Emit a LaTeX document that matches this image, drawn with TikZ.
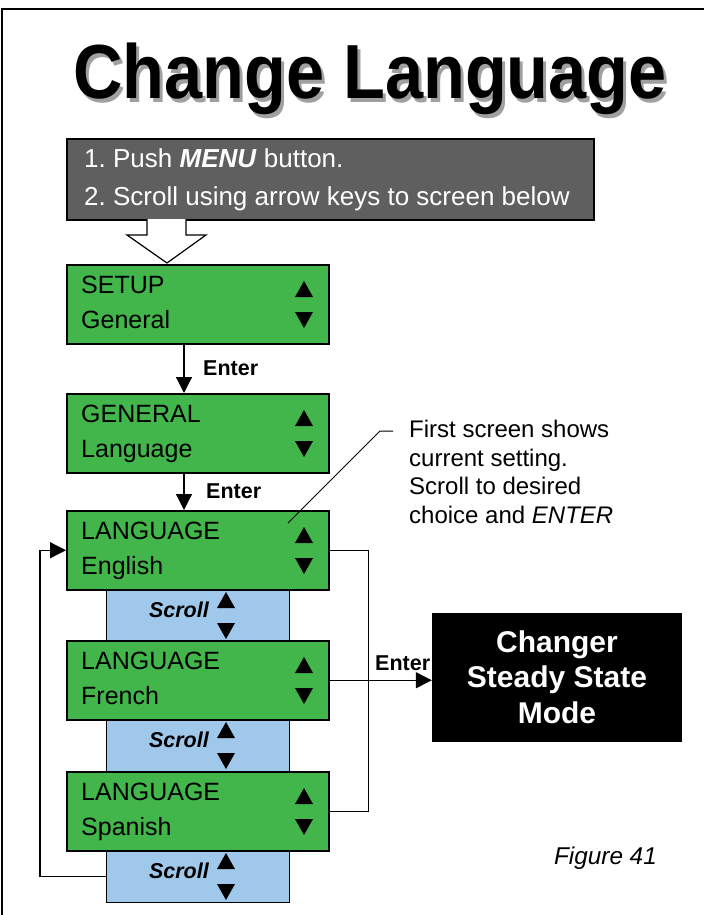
\documentclass[tikz,border=0pt]{standalone}
\usepackage{fontspec}
\setmainfont{Liberation Sans}
\usetikzlibrary{arrows.meta}
\frenchspacing
\definecolor{boxgreen}{HTML}{42B64A}
\definecolor{scrollblue}{HTML}{A0C8EB}
\definecolor{menugray}{HTML}{5F5F5F}
\definecolor{shadowgray}{HTML}{A0A0A0}
\tikzset{
  screen/.style={draw, fill=boxgreen, line width=1.5pt, minimum width=262pt, minimum height=79pt, anchor=north west, inner sep=0pt},
  scrollbar/.style={draw, fill=scrollblue, line width=1pt, minimum width=183pt, anchor=north west, inner sep=0pt},
  scrtext/.style={anchor=base west, inner sep=0pt, font=\fontsize{25}{28}\selectfont},
  entertext/.style={anchor=base west, inner sep=0pt, font=\fontsize{21.5}{24}\selectfont\bfseries},
  scrolltext/.style={anchor=base east, inner sep=0pt, font=\fontsize{21.5}{24}\selectfont\bfseries\itshape},
  calltext/.style={anchor=base west, inner sep=0pt, font=\fontsize{24}{28}\selectfont},
  bigtext/.style={anchor=base, inner sep=0pt, text=white, font=\fontsize{30}{34}\selectfont\bfseries},
  menutext/.style={anchor=base west, inner sep=0pt, text=white, font=\fontsize{26}{30}\selectfont},
  arr/.style={line width=1.2pt, -{Triangle[length=16pt,width=16pt]}},
  conn/.style={line width=1.2pt},
  uptri/.pic={\fill (-9,8) -- (9,8) -- (0,-8) -- cycle;},
  dntri/.pic={\fill (-9,-8) -- (9,-8) -- (0,8) -- cycle;}
}
\newcommand\shadowed[1]{\makebox[0pt][l]{\hspace{3pt}\raisebox{-3pt}{\textcolor{shadowgray}{#1}}}#1}
\begin{document}
\begin{tikzpicture}[x=1pt,y=-1pt]
\useasboundingbox (0,0) rectangle (704,915);
\fill[white] (0,0) rectangle (704,915);
\draw[line width=1.5pt] (2,915) -- (2,9) -- (704,9);

% title
\node[anchor=base, inner sep=0pt, font=\fontsize{68.5}{72}\selectfont\bfseries] (title) at (370,99) {\scalebox{1}[1.12]{\shadowed{Change Language}}};

% menu instruction box
\node[draw, fill=menugray, line width=1.5pt, minimum width=527pt, minimum height=81pt, anchor=north west, inner sep=0pt] (menu) at (66,138) {};
\node[menutext] (m1) at (84,167) {1. Push \textbf{\textit{MENU}} button.};
\node[menutext] (m2) at (84,205) {2. Scroll using arrow keys to screen below};

% hollow arrow
\draw[fill=white, line width=1.2pt] (147,219) -- (147,235) -- (127,235) -- (167,263) -- (206,235) -- (186,235) -- (186,219);

% scroll bars
\node[scrollbar, minimum height=51pt] (scrollA) at (106,589) {};
\node[scrollbar, minimum height=52pt] (scrollB) at (106,719) {};
\node[scrollbar, minimum height=52pt] (scrollC) at (106,850) {};

% screens
\node[screen] (setup) at (66,264) {};
\node[screen] (general) at (66,393) {};
\node[screen] (english) at (66,510) {};
\node[screen] (french) at (66,640) {};
\node[screen] (spanish) at (66,771) {};

\node[scrtext] (t1a) at (81,293) {SETUP};
\node[scrtext] (t1b) at (81,328) {General};
\node[scrtext] (t2a) at (81,422) {GENERAL};
\node[scrtext] (t2b) at (81,457) {Language};
\node[scrtext] (t3a) at (81,539) {LANGUAGE};
\node[scrtext] (t3b) at (81,574) {English};
\node[scrtext] (t4a) at (81,669) {LANGUAGE};
\node[scrtext] (t4b) at (81,704) {French};
\node[scrtext] (t5a) at (81,800) {LANGUAGE};
\node[scrtext] (t5b) at (81,835) {Spanish};

\foreach \t in {264,393,510,640,771}{
  \pic at (304,\t+25) {uptri};
  \pic at (304,\t+56) {dntri};
}
\foreach \t in {589,719,850}{
  \pic at (226,\t+11) {uptri};
  \pic at (226,\t+42) {dntri};
}
\node[scrolltext] (s1) at (209,617) {Scroll};
\node[scrolltext] (s2) at (209,747) {Scroll};
\node[scrolltext] (s3) at (209,878) {Scroll};

% enter arrows
\draw[arr] ([xshift=118pt]setup.south west) -- ([xshift=118pt]general.north west);
\node[entertext] (e1) at (203,375) {Enter};
\draw[arr] ([xshift=118pt]general.south west) -- ([xshift=118pt]english.north west);
\node[entertext] (e2) at (206,498) {Enter};

% loop back
\draw[arr] (scrollC.west) -- ++(-66,0) |- (english.west);
\draw[conn] (english.east) -- ++(39,0) |- (spanish.east);

% changer
\node[fill=black, minimum width=250pt, minimum height=129pt, inner sep=0pt] (changer) at (557,677.5) {};
\node[bigtext] (c1) at (557,652) {Changer};
\node[bigtext] (c2) at (557,687) {Steady State};
\node[bigtext] (c3) at (557,723) {Mode};
\draw[arr] (french.east) -- (french.east -| changer.west);
\node[entertext] (e3) at (375,670) {Enter};

% callout
\coordinate (cl) at (288,523);
\draw[line width=1pt] (cl) -- (380,431) -- (393,431);
\node[calltext] (n1) at (409,437) {First screen shows};
\node[calltext] (n2) at (409,466) {current setting.};
\node[calltext] (n3) at (409,494) {Scroll to desired};
\node[calltext] (n4) at (409,523) {choice and \textit{ENTER}};

\node[anchor=base east, inner sep=0pt, font=\fontsize{24.3}{28}\selectfont\itshape] (fig) at (657,864) {Figure 41};
\end{tikzpicture}
\end{document}
